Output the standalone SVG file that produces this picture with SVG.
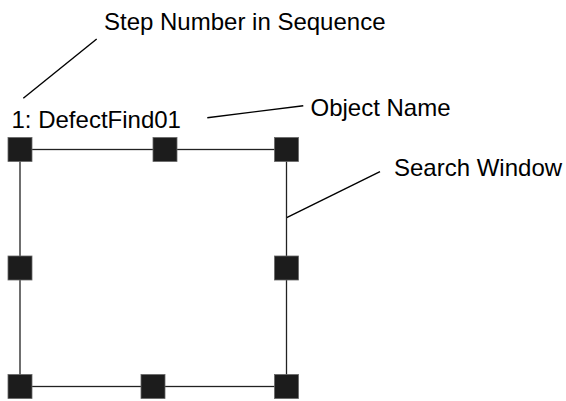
<svg xmlns="http://www.w3.org/2000/svg" width="566" height="401" viewBox="0 0 566 401">
<style>
.lbl{font-family:"Liberation Sans",Arial,sans-serif;font-size:24px;fill:#000}
.edge{stroke:#222;stroke-width:1.3;fill:none}
.lead{stroke:#000;stroke-width:1.4;fill:none}
.h{fill:#1c1c1c;stroke:#666;stroke-width:0.8}
</style>
<rect width="566" height="401" fill="#fff"/>
<g id="connectors">
<line class="lead" x1="96.7" y1="39" x2="23.3" y2="98.3"/>
<line class="lead" x1="207.3" y1="117.7" x2="303.3" y2="105.7"/>
<line class="lead" x1="380" y1="171.7" x2="286.7" y2="217.7"/>
</g>
<g id="search-window">
<rect class="edge" x="20" y="149.5" width="266.5" height="237"/>
<rect class="h" x="8" y="137.5" width="24" height="24"/>
<rect class="h" x="153" y="137.5" width="24" height="24"/>
<rect class="h" x="274.5" y="137.5" width="24" height="24"/>
<rect class="h" x="8" y="256" width="24" height="24"/>
<rect class="h" x="274.5" y="256" width="24" height="24"/>
<rect class="h" x="8" y="374.5" width="24" height="24"/>
<rect class="h" x="141" y="374.5" width="24" height="24"/>
<rect class="h" x="274.5" y="374.5" width="24" height="24"/>
</g>
<g id="label-step"><text class="lbl" x="104" y="30">Step Number in Sequence</text></g>
<g id="label-object"><text class="lbl" x="11.5" y="128.3">1: DefectFind01</text></g>
<g id="label-objname"><text class="lbl" x="310.5" y="116">Object Name</text></g>
<g id="label-search"><text class="lbl" x="394" y="176">Search Window</text></g>
</svg>
